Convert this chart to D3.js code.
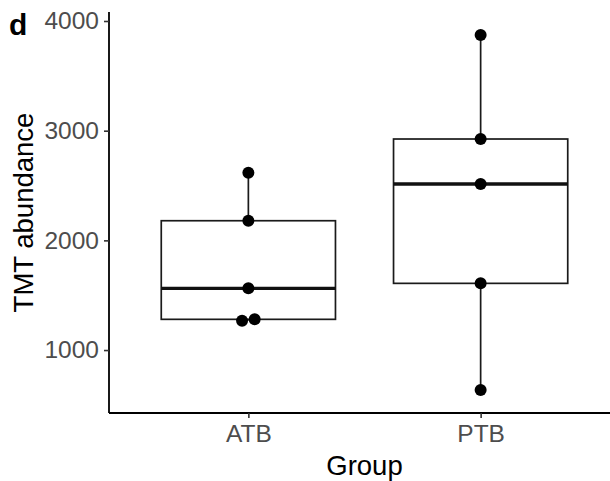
<!DOCTYPE html>
<html>
<head>
<meta charset="utf-8">
<script src="https://cdn.jsdelivr.net/npm/d3@7"></script>
<style>
  body { margin: 0; background: #fff; }
  svg { display: block; }
  text { font-family: "Liberation Sans", Arial, sans-serif; }
</style>
</head>
<body>
<svg id="chart" width="610" height="481"></svg>
<script>
// values
const groups = ["ATB", "PTB"];
const atbValues = [2617, 2179, 1563, 1280, 1268];
const ptbValues = [3872, 2924, 2514, 1608, 636];
const yTicks = [1000, 2000, 3000, 4000];
const yLimits = [426, 4082];

const seriesByGroup = { ATB: atbValues, PTB: ptbValues };

const margin = { top: 12, right: -10, bottom: 68, left: 109 };
const width = 610, height = 481;
const innerW = width - margin.left - margin.right;
const innerH = height - margin.top - margin.bottom;

const svg = d3.select("#chart");
const g = svg.append("g").attr("transform", `translate(${margin.left},${margin.top})`);

// discrete axis like ggplot: 0.6 units of padding each side
const xScale = d3.scaleLinear().domain([0.4, groups.length + 0.6]).range([0, innerW]);
const xPos = name => xScale(groups.indexOf(name) + 1);
const unit = xScale(2) - xScale(1);
const boxW = unit * 0.75;

const yScale = d3.scaleLinear().domain(yLimits).range([innerH, 0]);

const r = 6;
const lineCol = "#1a1a1a";

groups.forEach(name => {
  const vals = seriesByGroup[name].slice().sort(d3.ascending);
  const q1 = d3.quantile(vals, 0.25);
  const med = d3.quantile(vals, 0.5);
  const q3 = d3.quantile(vals, 0.75);
  const iqr = q3 - q1;
  const lo = d3.min(vals.filter(v => v >= q1 - 1.5 * iqr));
  const hi = d3.max(vals.filter(v => v <= q3 + 1.5 * iqr));
  const cx = xPos(name);

  // whiskers
  g.append("line").attr("x1", cx).attr("x2", cx)
    .attr("y1", yScale(q3)).attr("y2", yScale(hi))
    .attr("stroke", lineCol).attr("stroke-width", 1.7);
  g.append("line").attr("x1", cx).attr("x2", cx)
    .attr("y1", yScale(q1)).attr("y2", yScale(lo))
    .attr("stroke", lineCol).attr("stroke-width", 1.7);

  // box
  g.append("rect")
    .attr("x", cx - boxW / 2).attr("width", boxW)
    .attr("y", yScale(q3)).attr("height", yScale(q1) - yScale(q3))
    .attr("fill", "#fff").attr("stroke", lineCol).attr("stroke-width", 1.7);
  g.append("line")
    .attr("x1", cx - boxW / 2).attr("x2", cx + boxW / 2)
    .attr("y1", yScale(med)).attr("y2", yScale(med))
    .attr("stroke", "#111").attr("stroke-width", 3.3);

  // points, spread sideways when they overlap
  const pts = vals.map(v => ({ v, y: yScale(v), dx: 0 }));
  const clusters = [];
  pts.forEach(p => {
    const c = clusters.find(cl => Math.abs(cl[0].y - p.y) < r * 2);
    if (c) c.push(p); else clusters.push([p]);
  });
  clusters.forEach(cl => {
    const step = r * 2.1;
    cl.forEach((p, i) => { p.dx = (i - (cl.length - 1) / 2) * step; });
  });
  g.selectAll(null).data(pts).enter().append("circle")
    .attr("cx", d => cx + d.dx)
    .attr("cy", d => d.y)
    .attr("r", r)
    .attr("fill", "#000");
});

// y axis
const yAxis = g.append("g")
  .call(d3.axisLeft(yScale).tickValues(yTicks).tickSize(5).tickPadding(5).tickFormat(d3.format("d")));
yAxis.select(".domain").attr("stroke", "#000").attr("stroke-width", 1.8)
  .attr("d", `M0,0V${innerH}`);
yAxis.selectAll(".tick line").attr("stroke", "#333").attr("stroke-width", 1.6);
yAxis.selectAll(".tick text").attr("fill", "#4d4d4d").attr("font-size", 24.5)
  .attr("font-family", "Liberation Sans, Arial, sans-serif");

// x axis
const xAxis = g.append("g").attr("transform", `translate(0,${innerH})`)
  .call(d3.axisBottom(xScale).tickValues(groups.map((d, i) => i + 1))
    .tickFormat(i => groups[i - 1]).tickSize(5).tickPadding(7));
xAxis.select(".domain").attr("stroke", "#000").attr("stroke-width", 1.8)
  .attr("d", `M0,0H${innerW}`);
xAxis.selectAll(".tick line").attr("stroke", "#333").attr("stroke-width", 1.6);
xAxis.selectAll(".tick text").attr("fill", "#4d4d4d").attr("font-size", 24.5)
  .attr("font-family", "Liberation Sans, Arial, sans-serif");

// titles
svg.append("text")
  .attr("x", margin.left + innerW / 2).attr("y", 475)
  .attr("text-anchor", "middle").attr("font-size", 27.5).attr("fill", "#000")
  .text("Group");
svg.append("text")
  .attr("transform", `translate(33,${margin.top + innerH / 2}) rotate(-90)`)
  .attr("text-anchor", "middle").attr("font-size", 27.5).attr("fill", "#000")
  .text("TMT abundance");
svg.append("text")
  .attr("x", 9).attr("y", 35)
  .attr("font-size", 30).attr("font-weight", "bold").attr("fill", "#000")
  .text("d");
</script>
</body>
</html>
